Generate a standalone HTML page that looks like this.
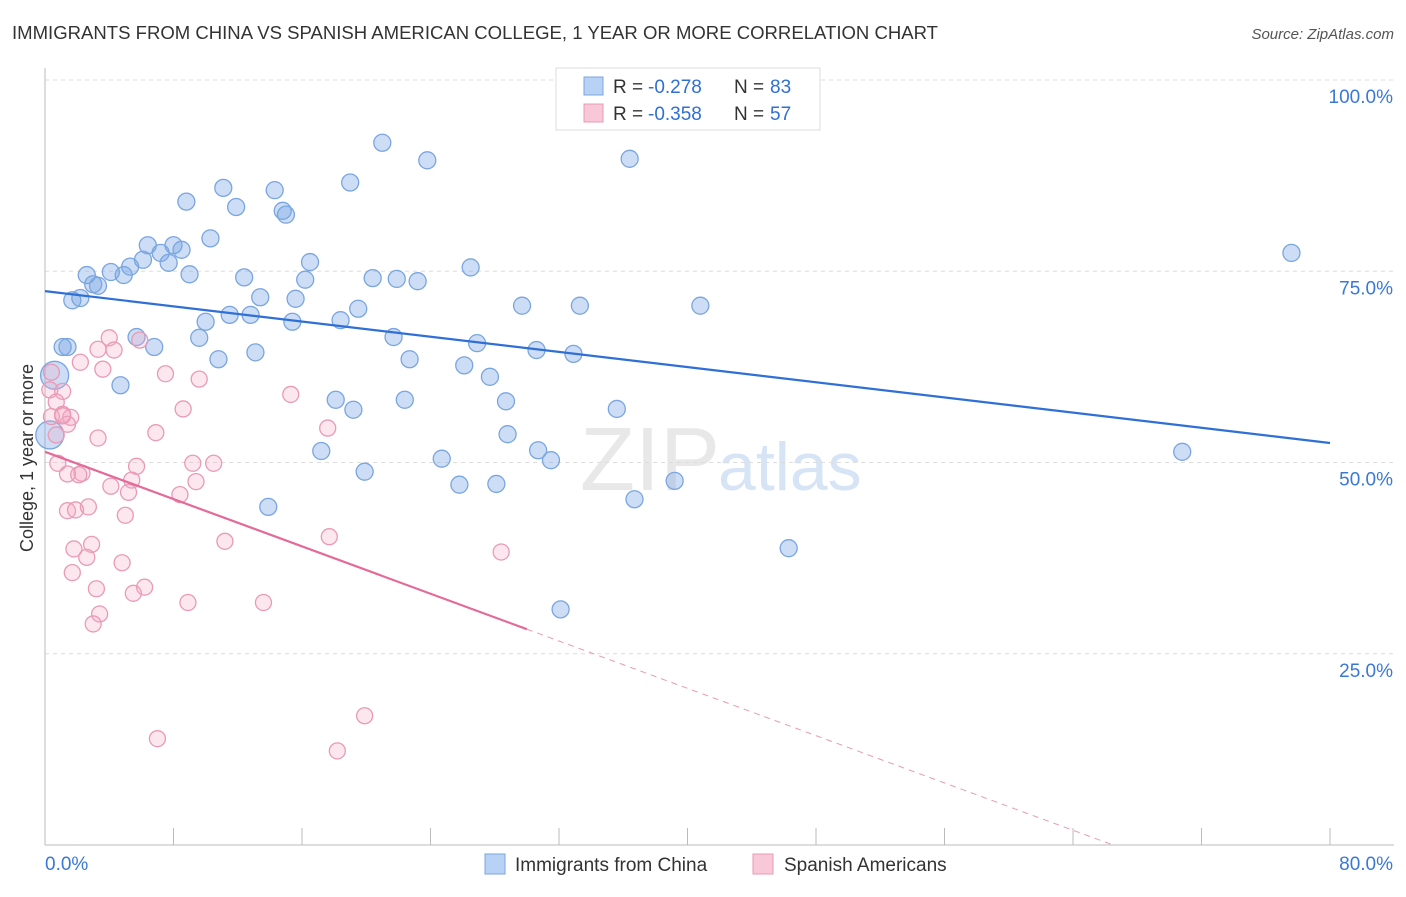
<!DOCTYPE html>
<html><head><meta charset="utf-8"><style>
body{margin:0;background:#fff;font-family:"Liberation Sans",sans-serif;}
svg text{font-family:"Liberation Sans",sans-serif;}
</style></head><body>
<svg id="chart" width="1406" height="892" viewBox="0 0 1406 892">
<text x="12" y="39" font-size="18" fill="#333" textLength="926" lengthAdjust="spacingAndGlyphs">IMMIGRANTS FROM CHINA VS SPANISH AMERICAN COLLEGE, 1 YEAR OR MORE CORRELATION CHART</text>
<text x="1394" y="39" font-size="15" fill="#555" text-anchor="end" font-style="italic">Source: ZipAtlas.com</text>
<text x="33" y="458" font-size="18" fill="#333" text-anchor="middle" transform="rotate(-90 33 458)">College, 1 year or more</text>
<text x="720" y="490" font-size="90" fill="#e8e8e8" text-anchor="end" font-family="Liberation Serif">ZIP</text>
<text x="718" y="490" font-size="68" fill="#d6e4f5">atlas</text>
<g id="grid"></g><g id="axes"></g><g id="pts"></g><g id="lines"></g>
<g>
<rect x="556" y="68" width="264" height="62" fill="#fff" stroke="#ddd"/>
<rect x="584" y="77" width="19" height="18" fill="#b8d2f5" stroke="#7aa6e0"/>
<rect x="584" y="104" width="19" height="18" fill="#f8c8d8" stroke="#e89ab5"/>
<text x="613" y="93" font-size="19" fill="#333">R =</text>
<text x="648" y="93" font-size="19" fill="#2f6fd6">-0.278</text>
<text x="734" y="93" font-size="19" fill="#333">N =</text>
<text x="770" y="93" font-size="19" fill="#2f6fd6">83</text>
<text x="613" y="120" font-size="19" fill="#333">R =</text>
<text x="648" y="120" font-size="19" fill="#2f6fd6">-0.358</text>
<text x="734" y="120" font-size="19" fill="#333">N =</text>
<text x="770" y="120" font-size="19" fill="#2f6fd6">57</text>
</g>
<g>
<rect x="485" y="854" width="20" height="20" fill="#b8d2f5" stroke="#7aa6e0"/>
<text x="515" y="871" font-size="19" fill="#333">Immigrants from China</text>
<rect x="753" y="854" width="20" height="20" fill="#f8c8d8" stroke="#e89ab5"/>
<text x="784" y="871" font-size="19" fill="#333">Spanish Americans</text>
</g>
</svg>
<script>
const xTicksPct=[0,8,16,24,32,40,48,56,64,72,80];
const yTicks=[25,50,75,100];
const yTickLabels=["25.0%","50.0%","75.0%","100.0%"];
const xLabels=["0.0%","80.0%"];
const chinaX=[21.0,23.8,36.4,11.1,14.3,19.0,8.8,11.9,14.8,15.0,10.3,6.4,8.0,8.5,7.2,6.1,7.7,16.5,2.6,4.1,5.3,4.9,9.0,12.4,16.2,20.4,26.5,21.9,23.2,3.0,3.3,13.4,15.6,2.2,1.7,11.5,12.8,10.0,15.4,18.4,19.5,29.7,33.3,40.8,77.6,5.7,9.6,6.8,1.1,1.4,21.7,26.9,30.6,32.9,13.1,10.8,22.7,26.1,0.6,27.7,4.7,18.1,22.4,28.7,19.2,35.6,28.8,30.7,17.2,31.5,24.7,19.9,25.8,28.1,39.2,36.7,13.9,46.3,32.1,70.8,0.3];
const chinaY=[91.8,89.5,89.7,85.9,85.6,86.6,84.1,83.4,82.9,82.4,79.3,78.4,78.4,77.8,77.4,76.5,76.1,76.2,74.5,74.9,75.6,74.5,74.6,74.2,73.9,74.1,75.5,74.0,73.7,73.3,73.1,71.6,71.4,71.5,71.2,69.3,69.3,68.4,68.4,68.6,70.1,70.5,70.5,70.5,77.4,66.4,66.3,65.1,65.1,65.1,66.4,65.6,64.7,64.2,64.4,63.5,63.5,62.7,61.4,61.2,60.1,58.2,58.2,58.0,56.9,57.0,53.7,51.6,51.5,50.3,50.5,48.8,47.1,47.2,47.6,45.2,44.2,38.8,30.8,51.4,53.6];
const spanX=[0.4,0.3,1.1,0.7,0.4,1.1,1.6,1.4,4.0,5.9,3.3,4.3,3.6,2.2,7.5,9.6,15.3,8.6,6.9,3.3,17.6,0.8,5.7,9.2,10.5,2.3,1.4,2.1,5.4,4.1,5.2,9.4,8.4,2.7,1.4,1.9,5.0,11.2,17.7,28.4,2.9,1.8,2.6,4.8,1.7,6.2,3.2,5.5,8.9,13.6,3.4,3.0,19.9,7.0,18.2,1.1,0.7];
const spanY=[61.8,59.5,59.3,57.9,56.0,56.3,55.9,55.0,66.3,66.0,64.8,64.7,62.2,63.1,61.6,60.9,58.9,57.0,53.9,53.2,54.5,49.9,49.5,49.9,49.9,48.6,48.5,48.4,47.7,46.9,46.1,47.5,45.8,44.2,43.7,43.8,43.1,39.7,40.3,38.3,39.3,38.7,37.6,36.9,35.6,33.7,33.5,32.9,31.7,31.7,30.2,28.9,16.9,13.9,12.3,56.1,53.6];
const chinaBig=[80,58];const spanBig=[];
const chinaLine=[72.4,52.55];
const spanLine=[51.4,-0.773];
const NS="http://www.w3.org/2000/svg";
const X=v=>45+v/80*1285, Y=v=>845-v/100*765;
function mk(t,a,p){const e=document.createElementNS(NS,t);for(const k in a)e.setAttribute(k,a[k]);p.appendChild(e);return e;}
const grid=document.getElementById('grid'),axes=document.getElementById('axes'),pts=document.getElementById('pts'),lines=document.getElementById('lines');
yTicks.forEach((t,i)=>{
 const g=mk('line',{x1:45,x2:1394,y1:Y(t),y2:Y(t),stroke:'#ddd','stroke-dasharray':'4,4'},grid);
 
 
 const tx=mk('text',{x:1393,y:Y(t)+23,'font-size':19,fill:'#3a78d8','text-anchor':'end'},axes);
 tx.textContent=yTickLabels[i];
 
 
});
const ax=mk('line',{x1:45,x2:45,y1:68,y2:845,stroke:'#bbb'},axes);


const bx=mk('line',{x1:45,x2:1394,y1:845,y2:845,stroke:'#bbb'},axes);


xTicksPct.forEach(t=>{const l=mk('line',{x1:X(t),x2:X(t),y1:828,y2:845,stroke:'#bbb'},axes);
 
 });
[[0,45,'start'],[80,1393,'end']].forEach((d,i)=>{const t=mk('text',{x:d[1],y:870,'font-size':19,fill:'#3a78d8','text-anchor':d[2]},axes);t.textContent=xLabels[i];
 
 });
chinaX.forEach((x,i)=>{const c=mk('circle',{cx:X(x),cy:Y(chinaY[i]),r:chinaBig.includes(i)?14:8.5,fill:'rgba(120,165,230,0.38)',stroke:'#7aa6e0','stroke-width':1.3},pts);
 
 });
spanX.forEach((x,i)=>{const c=mk('circle',{cx:X(x),cy:Y(spanY[i]),r:spanBig.includes(i)?10:8,fill:'rgba(245,170,195,0.28)',stroke:'#e99ab6','stroke-width':1.3},pts);
 
 });
const bl=mk('line',{x1:X(0),y1:Y(chinaLine[0]),x2:X(80),y2:Y(chinaLine[1]),stroke:'#2f6fd6','stroke-width':2.2},lines);


const xs=30,xe=-spanLine[0]/spanLine[1];
const pl=mk('line',{x1:X(0),y1:Y(spanLine[0]),x2:X(xs),y2:Y(spanLine[0]+spanLine[1]*xs),stroke:'#e46a98','stroke-width':2.2},lines);


const pd=mk('line',{x1:X(xs),y1:Y(spanLine[0]+spanLine[1]*xs),x2:X(xe),y2:Y(0),stroke:'#e99ab6','stroke-width':1,'stroke-dasharray':'6,5'},lines);


</script>
</body></html>
